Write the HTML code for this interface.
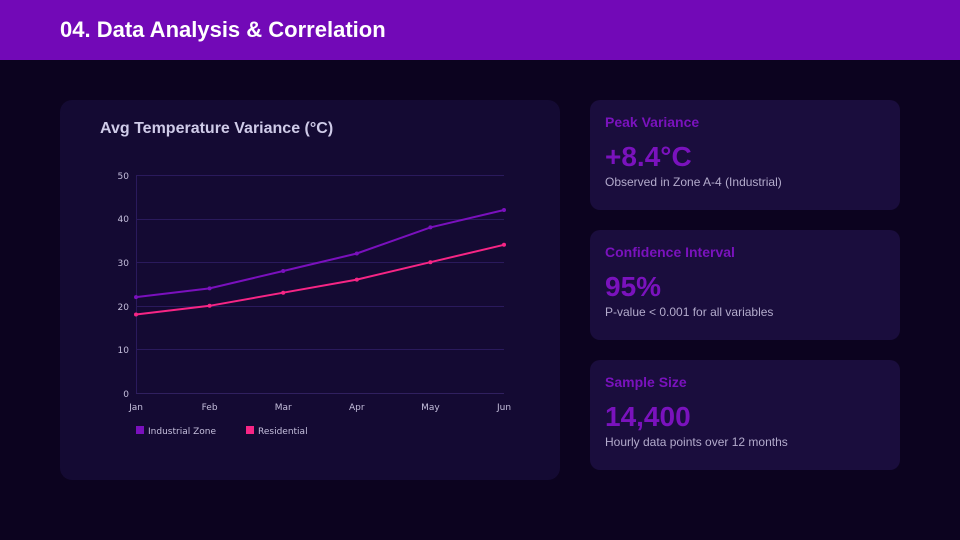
<!DOCTYPE html>
<html><head><meta charset="utf-8"><style>
*{margin:0;padding:0;box-sizing:border-box}
body{width:960px;height:540px;background:#0c031f;font-family:"Liberation Sans",Arial,sans-serif;position:relative;overflow:hidden}
.hdr{position:absolute;left:0;top:0;width:960px;height:60px;background:#7209b7}
.hdr h1{position:absolute;left:60px;top:16px;font-size:22px;font-weight:bold;color:#fff;line-height:28px}
.chart{position:absolute;left:60px;top:100px;width:500px;height:380px;background:#140a33;border-radius:12px}
.chart h2{position:absolute;left:40px;top:19px;font-size:16px;font-weight:bold;color:#cfcbe8;line-height:20px}
.card{position:absolute;left:590px;width:310px;height:110px;background:#1a0d3d;border-radius:10px}
.card .l{position:absolute;left:15px;top:14px;font-size:14px;font-weight:bold;color:#7a12bd;line-height:16px}
.card .v{position:absolute;left:15px;top:41px;font-size:28px;font-weight:bold;color:#7a12bd;line-height:32px}
.card .d{position:absolute;left:15px;top:75px;font-size:12px;color:#b3abcc;line-height:14px}
svg{position:absolute;left:0;top:0}
</style></head><body>
<div class="hdr"><h1>04. Data Analysis &amp; Correlation</h1></div>
<div class="chart"><h2>Avg Temperature Variance (°C)</h2></div>
<svg width="960" height="540" viewBox="0 0 960 540" font-family="'DejaVu Sans','Liberation Sans',sans-serif">
<g stroke="#2a1a5c" stroke-width="1">
<line x1="136" y1="175.5" x2="504" y2="175.5"/>
<line x1="136" y1="219.5" x2="504" y2="219.5"/>
<line x1="136" y1="262.5" x2="504" y2="262.5"/>
<line x1="136" y1="306.5" x2="504" y2="306.5"/>
<line x1="136" y1="349.5" x2="504" y2="349.5"/>
<line x1="136" y1="393.5" x2="504" y2="393.5" stroke="#30205f"/>
<line x1="136.5" y1="175" x2="136.5" y2="393" stroke="#2a1a5c"/>
</g>
<g fill="#c4bedb" font-size="9" text-anchor="end">
<text x="129" y="179">50</text>
<text x="129" y="222">40</text>
<text x="129" y="266">30</text>
<text x="129" y="310">20</text>
<text x="129" y="353">10</text>
<text x="129" y="397">0</text>
</g>
<g fill="#c4bedb" font-size="9" text-anchor="middle">
<text x="136" y="410">Jan</text>
<text x="209.6" y="410">Feb</text>
<text x="283.2" y="410">Mar</text>
<text x="356.8" y="410">Apr</text>
<text x="430.4" y="410">May</text>
<text x="504" y="410">Jun</text>
</g>
<polyline fill="none" stroke="#7a10bd" stroke-width="2" points="136,297.1 209.6,288.4 283.2,271 356.8,253.5 430.4,227.4 504,210"/>
<g fill="#7a10bd">
<circle cx="136" cy="297.1" r="2"/><circle cx="209.6" cy="288.4" r="2"/><circle cx="283.2" cy="271" r="2"/><circle cx="356.8" cy="253.5" r="2"/><circle cx="430.4" cy="227.4" r="2"/><circle cx="504" cy="210" r="2"/>
</g>
<polyline fill="none" stroke="#f72585" stroke-width="2" points="136,314.5 209.6,305.8 283.2,292.7 356.8,279.6 430.4,262.2 504,244.8"/>
<g fill="#f72585">
<circle cx="136" cy="314.5" r="2"/><circle cx="209.6" cy="305.8" r="2"/><circle cx="283.2" cy="292.7" r="2"/><circle cx="356.8" cy="279.6" r="2"/><circle cx="430.4" cy="262.2" r="2"/><circle cx="504" cy="244.8" r="2"/>
</g>
<rect x="136" y="426" width="8" height="8" fill="#7a10bd"/>
<text x="148" y="434" fill="#c4bedb" font-size="9">Industrial Zone</text>
<rect x="246" y="426" width="8" height="8" fill="#f72585"/>
<text x="258" y="434" fill="#c4bedb" font-size="9">Residential</text>
</svg>
<div class="card" style="top:100px"><div class="l">Peak Variance</div><div class="v">+8.4°C</div><div class="d">Observed in Zone A-4 (Industrial)</div></div>
<div class="card" style="top:230px"><div class="l">Confidence Interval</div><div class="v">95%</div><div class="d">P-value &lt; 0.001 for all variables</div></div>
<div class="card" style="top:360px"><div class="l">Sample Size</div><div class="v">14,400</div><div class="d">Hourly data points over 12 months</div></div>
</body></html>
